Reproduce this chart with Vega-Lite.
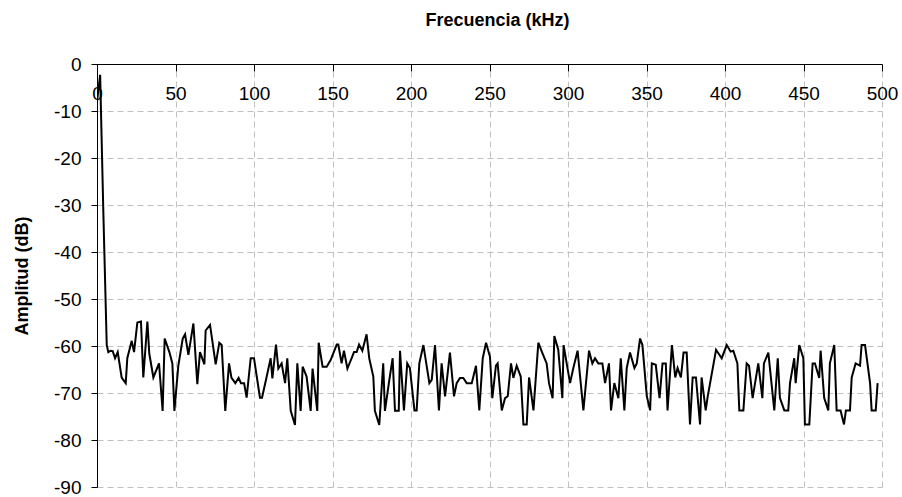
{
  "$schema": "https://vega.github.io/schema/vega-lite/v6.json",
  "width": 785,
  "height": 423,
  "autosize": {"type": "none"},
  "padding": {"left": 97, "top": 64, "right": 20, "bottom": 10},
  "background": "white",
  "config": {
    "view": {"stroke": null},
    "font": "Liberation Sans",
    "axis": {
      "labelFont": "Liberation Sans",
      "titleFont": "Liberation Sans",
      "labelColor": "black",
      "titleColor": "black",
      "domainColor": "black",
      "tickColor": "black",
      "gridColor": "#c0c0c0",
      "gridDash": [6, 4],
      "gridWidth": 1,
      "labelFontSize": 19,
      "titleFontSize": 18,
      "titleFontWeight": "bold",
      "labelFlush": false,
      "labelOverlap": false
    }
  },
  "data": {
    "values": [
      {"f": 0, "a": -8}, {"f": 2, "a": -2.3}, {"f": 4, "a": -31}, {"f": 6.2, "a": -59.8},
      {"f": 7.2, "a": -61.3}, {"f": 8.7, "a": -61.0}, {"f": 10.0, "a": -61.1}, {"f": 11.5, "a": -62.6},
      {"f": 13.2, "a": -61.3}, {"f": 15.7, "a": -66.7}, {"f": 18.3, "a": -67.9}, {"f": 19.3, "a": -62.6},
      {"f": 22.1, "a": -58.9}, {"f": 23.6, "a": -61.3}, {"f": 25.7, "a": -55.0}, {"f": 28.0, "a": -54.8},
      {"f": 29.5, "a": -66.7}, {"f": 32.1, "a": -54.8}, {"f": 33.3, "a": -61.6}, {"f": 35.9, "a": -66.7},
      {"f": 39.5, "a": -63.7}, {"f": 41.8, "a": -73.8}, {"f": 43.1, "a": -58.4}, {"f": 46.1, "a": -61.3},
      {"f": 48.0, "a": -63.7}, {"f": 49.3, "a": -73.8}, {"f": 51.8, "a": -64.2}, {"f": 54.6, "a": -58.4},
      {"f": 56.1, "a": -57.5}, {"f": 58.2, "a": -61.9}, {"f": 61.4, "a": -55.2}, {"f": 63.9, "a": -68.1},
      {"f": 65.6, "a": -61.3}, {"f": 68.4, "a": -63.9}, {"f": 69.2, "a": -56.7}, {"f": 72.0, "a": -55.5},
      {"f": 75.6, "a": -63.9}, {"f": 77.9, "a": -59.3}, {"f": 79.4, "a": -59.8}, {"f": 81.7, "a": -73.8},
      {"f": 84.1, "a": -63.7}, {"f": 85.6, "a": -66.7}, {"f": 88.1, "a": -67.9}, {"f": 90.2, "a": -66.8},
      {"f": 91.7, "a": -67.9}, {"f": 93.7, "a": -67.9}, {"f": 95.3, "a": -71.0}, {"f": 97.9, "a": -62.6},
      {"f": 100.0, "a": -62.6}, {"f": 103.8, "a": -71.0}, {"f": 105.1, "a": -71.0}, {"f": 108.1, "a": -66.5},
      {"f": 110.6, "a": -62.6}, {"f": 111.7, "a": -66.9}, {"f": 114.0, "a": -59.7}, {"f": 115.5, "a": -64.8},
      {"f": 117.6, "a": -63.7}, {"f": 119.8, "a": -67.9}, {"f": 121.2, "a": -62.6}, {"f": 123.4, "a": -73.8},
      {"f": 126.1, "a": -76.8}, {"f": 127.6, "a": -63.7}, {"f": 129.7, "a": -73.8}, {"f": 131.0, "a": -64.4},
      {"f": 133.5, "a": -66.5}, {"f": 136.1, "a": -73.8}, {"f": 137.3, "a": -64.8}, {"f": 140.3, "a": -73.8},
      {"f": 141.2, "a": -59.3}, {"f": 143.7, "a": -64.4}, {"f": 146.3, "a": -64.4}, {"f": 148.8, "a": -63.0},
      {"f": 152.7, "a": -59.7}, {"f": 153.7, "a": -59.7}, {"f": 155.8, "a": -63.7}, {"f": 157.3, "a": -61.0},
      {"f": 159.5, "a": -64.8}, {"f": 162.2, "a": -62.6}, {"f": 163.7, "a": -61.3}, {"f": 165.4, "a": -61.3},
      {"f": 166.9, "a": -59.7}, {"f": 169.0, "a": -61.0}, {"f": 171.7, "a": -57.5}, {"f": 173.4, "a": -62.6},
      {"f": 176.0, "a": -66.5}, {"f": 177.0, "a": -73.8}, {"f": 179.8, "a": -76.8}, {"f": 182.3, "a": -63.7},
      {"f": 183.4, "a": -73.8}, {"f": 185.9, "a": -67.9}, {"f": 188.3, "a": -62.6}, {"f": 189.8, "a": -73.8},
      {"f": 192.2, "a": -73.8}, {"f": 193.0, "a": -61.0}, {"f": 195.5, "a": -73.7}, {"f": 197.6, "a": -63.7},
      {"f": 199.3, "a": -64.7}, {"f": 202.2, "a": -73.7}, {"f": 203.6, "a": -73.7}, {"f": 205.3, "a": -63.7},
      {"f": 207.9, "a": -59.8}, {"f": 211.7, "a": -67.9}, {"f": 213.2, "a": -67.2}, {"f": 215.3, "a": -59.8},
      {"f": 217.8, "a": -73.7}, {"f": 219.5, "a": -63.7}, {"f": 221.7, "a": -70.7}, {"f": 224.8, "a": -61.4},
      {"f": 227.4, "a": -70.7}, {"f": 229.1, "a": -67.9}, {"f": 231.2, "a": -66.8}, {"f": 233.3, "a": -66.8},
      {"f": 235.5, "a": -67.9}, {"f": 238.7, "a": -67.9}, {"f": 241.4, "a": -64.2}, {"f": 243.5, "a": -73.7},
      {"f": 245.7, "a": -62.6}, {"f": 247.8, "a": -59.3}, {"f": 250.3, "a": -62.3}, {"f": 251.8, "a": -71.1},
      {"f": 254.1, "a": -64.2}, {"f": 255.2, "a": -63.7}, {"f": 257.8, "a": -73.7}, {"f": 259.9, "a": -71.1},
      {"f": 261.6, "a": -70.7}, {"f": 263.7, "a": -63.7}, {"f": 265.2, "a": -66.8}, {"f": 267.3, "a": -64.2},
      {"f": 269.9, "a": -66.5}, {"f": 271.6, "a": -76.7}, {"f": 273.7, "a": -76.7}, {"f": 275.2, "a": -66.7},
      {"f": 278.0, "a": -73.7}, {"f": 281.1, "a": -59.3}, {"f": 283.7, "a": -61.5}, {"f": 286.4, "a": -63.7},
      {"f": 287.9, "a": -67.9}, {"f": 290.2, "a": -71.1}, {"f": 291.3, "a": -57.9}, {"f": 293.8, "a": -60.8},
      {"f": 296.4, "a": -71.1}, {"f": 297.2, "a": -59.8}, {"f": 301.3, "a": -67.9}, {"f": 303.4, "a": -64.7},
      {"f": 306.1, "a": -61.0}, {"f": 309.8, "a": -73.7}, {"f": 313.4, "a": -61.0}, {"f": 315.5, "a": -63.7},
      {"f": 317.2, "a": -62.6}, {"f": 319.3, "a": -63.7}, {"f": 321.9, "a": -63.7}, {"f": 323.6, "a": -67.9},
      {"f": 326.1, "a": -63.7}, {"f": 327.4, "a": -73.7}, {"f": 329.5, "a": -67.9}, {"f": 332.1, "a": -71.1},
      {"f": 333.6, "a": -62.6}, {"f": 335.9, "a": -73.7}, {"f": 337.4, "a": -64.7}, {"f": 339.5, "a": -61.4},
      {"f": 342.3, "a": -64.7}, {"f": 343.8, "a": -63.7}, {"f": 345.9, "a": -58.4}, {"f": 347.4, "a": -59.8},
      {"f": 350.2, "a": -70.7}, {"f": 352.3, "a": -73.7}, {"f": 353.4, "a": -63.7}, {"f": 355.9, "a": -64.0},
      {"f": 358.3, "a": -71.1}, {"f": 360.2, "a": -63.7}, {"f": 362.3, "a": -63.7}, {"f": 363.4, "a": -73.7},
      {"f": 366.2, "a": -59.8}, {"f": 368.3, "a": -66.7}, {"f": 369.8, "a": -64.7}, {"f": 371.9, "a": -66.7},
      {"f": 373.6, "a": -61.4}, {"f": 375.6, "a": -61.4}, {"f": 377.7, "a": -76.7}, {"f": 379.4, "a": -66.7},
      {"f": 381.5, "a": -66.7}, {"f": 384.1, "a": -76.7}, {"f": 385.1, "a": -66.7}, {"f": 387.7, "a": -73.7},
      {"f": 389.0, "a": -70.7}, {"f": 394.3, "a": -60.8}, {"f": 397.9, "a": -62.6}, {"f": 401.1, "a": -59.8},
      {"f": 403.6, "a": -61.2}, {"f": 405.3, "a": -61.0}, {"f": 407.9, "a": -63.7}, {"f": 409.1, "a": -73.7},
      {"f": 411.7, "a": -73.7}, {"f": 413.8, "a": -63.7}, {"f": 415.3, "a": -64.2}, {"f": 417.6, "a": -71.1},
      {"f": 421.2, "a": -63.7}, {"f": 423.8, "a": -71.1}, {"f": 424.8, "a": -63.7}, {"f": 427.6, "a": -61.4},
      {"f": 431.4, "a": -73.7}, {"f": 433.6, "a": -62.6}, {"f": 435.0, "a": -71.1}, {"f": 437.8, "a": -73.7},
      {"f": 440.3, "a": -73.7}, {"f": 441.4, "a": -67.9}, {"f": 444.1, "a": -62.6}, {"f": 445.0, "a": -67.9},
      {"f": 447.3, "a": -59.8}, {"f": 449.9, "a": -62.6}, {"f": 450.9, "a": -76.7}, {"f": 453.7, "a": -76.7},
      {"f": 455.8, "a": -63.7}, {"f": 457.3, "a": -63.7}, {"f": 460.0, "a": -66.8}, {"f": 460.9, "a": -61.0},
      {"f": 463.2, "a": -71.1}, {"f": 465.8, "a": -73.7}, {"f": 466.8, "a": -63.7}, {"f": 469.6, "a": -59.8},
      {"f": 471.1, "a": -73.7}, {"f": 473.6, "a": -73.7}, {"f": 475.8, "a": -76.7}, {"f": 477.0, "a": -73.7},
      {"f": 479.6, "a": -73.7}, {"f": 480.7, "a": -66.7}, {"f": 483.2, "a": -63.7}, {"f": 486.0, "a": -64.2},
      {"f": 487.0, "a": -59.8}, {"f": 489.2, "a": -59.8}, {"f": 492.4, "a": -67.9}, {"f": 493.4, "a": -73.7},
      {"f": 496.0, "a": -73.7}, {"f": 497.2, "a": -67.9}
    ]
  },
  "mark": {"type": "line", "color": "black", "strokeWidth": 2, "clip": true},
  "encoding": {
    "x": {
      "field": "f",
      "type": "quantitative",
      "scale": {"domain": [0, 500], "nice": false, "zero": false},
      "axis": {
        "orient": "top",
        "values": [0, 50, 100, 150, 200, 250, 300, 350, 400, 450, 500],
        "labelExpr": "'' + datum.value",
        "title": "Frecuencia (kHz)",
        "titleX": 400,
        "titleY": -44,
        "titleBaseline": "middle",
        "titleAlign": "center",
        "tickSize": -7,
        "labelPadding": -13,
        "labelBaseline": "top",
        "grid": true
      }
    },
    "y": {
      "field": "a",
      "type": "quantitative",
      "scale": {"domain": [-90, 0], "nice": false, "zero": false},
      "axis": {
        "orient": "left",
        "values": [0, -10, -20, -30, -40, -50, -60, -70, -80, -90],
        "labelExpr": "'' + datum.value",
        "title": "Amplitud (dB)",
        "titleX": -75,
        "titleY": 211.5,
        "titleAngle": -90,
        "titleAlign": "center",
        "titleBaseline": "middle",
        "tickSize": 6,
        "labelPadding": 10,
        "grid": true
      }
    }
  }
}
